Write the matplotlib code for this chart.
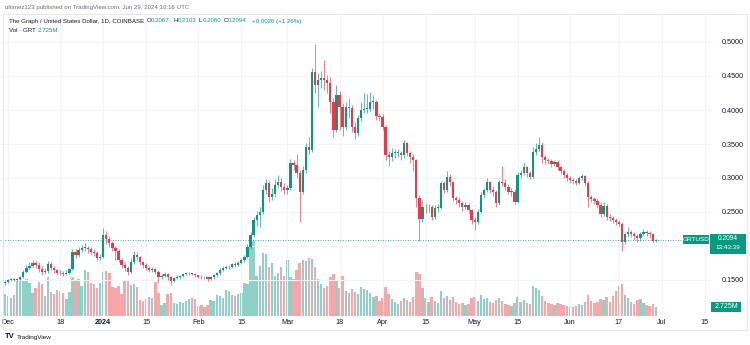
import numpy as np
import pandas as pd
import matplotlib
matplotlib.use("Agg")
import matplotlib.pyplot as plt
from matplotlib.patches import Rectangle

# ---------------------------------------------------------------
# GRT / USD daily candles, Coinbase, 2023-11-30 .. 2024-06-29
# ---------------------------------------------------------------

start_date = "2023-11-30"
first_open = 0.145

close = [
    0.147, 0.150, 0.151, 0.150, 0.151, 0.154, 0.162, 0.168, 0.171, 0.175,
    0.172, 0.166, 0.162, 0.163, 0.174, 0.168, 0.164, 0.161, 0.160, 0.159,
    0.161, 0.166, 0.191, 0.187, 0.194, 0.197, 0.197, 0.195, 0.191, 0.190,
    0.182, 0.184, 0.216, 0.210, 0.205, 0.197, 0.192, 0.180, 0.172, 0.168,
    0.162, 0.176, 0.187, 0.184, 0.176, 0.172, 0.168, 0.165, 0.166, 0.162,
    0.154, 0.156, 0.159, 0.154, 0.149, 0.153, 0.154, 0.156, 0.159, 0.160,
    0.160, 0.159, 0.157, 0.155, 0.154, 0.154, 0.152, 0.154, 0.157, 0.160,
    0.165, 0.168, 0.169, 0.169, 0.173, 0.172, 0.175, 0.179, 0.184, 0.199,
    0.216, 0.238, 0.245, 0.250, 0.282, 0.292, 0.272, 0.276, 0.290, 0.294,
    0.287, 0.282, 0.285, 0.322, 0.319, 0.307, 0.279, 0.312, 0.346, 0.341,
    0.456, 0.437, 0.444, 0.447, 0.444, 0.440, 0.412, 0.371, 0.422, 0.404,
    0.375, 0.404, 0.403, 0.375, 0.366, 0.388, 0.400, 0.402, 0.402, 0.412,
    0.412, 0.391, 0.390, 0.375, 0.334, 0.331, 0.337, 0.337, 0.337, 0.334,
    0.351, 0.337, 0.331, 0.326, 0.270, 0.240, 0.258, 0.257, 0.257, 0.243,
    0.256, 0.256, 0.292, 0.282, 0.302, 0.294, 0.270, 0.268, 0.263, 0.257,
    0.260, 0.253, 0.238, 0.235, 0.250, 0.275, 0.282, 0.294, 0.283, 0.279,
    0.263, 0.294, 0.292, 0.287, 0.280, 0.280, 0.265, 0.305, 0.307, 0.316,
    0.307, 0.302, 0.338, 0.343, 0.349, 0.331, 0.326, 0.325, 0.320, 0.324,
    0.316, 0.310, 0.304, 0.300, 0.297, 0.295, 0.293, 0.300, 0.303, 0.293,
    0.272, 0.269, 0.266, 0.261, 0.247, 0.259, 0.243, 0.241, 0.238, 0.235,
    0.233, 0.206, 0.217, 0.221, 0.218, 0.214, 0.212, 0.217, 0.221, 0.219,
    0.217, 0.2067, 0.2094,
]

high = [
    0.150, 0.152, 0.153, 0.153, 0.153, 0.156, 0.165, 0.172, 0.176, 0.180,
    0.178, 0.176, 0.170, 0.168, 0.178, 0.176, 0.170, 0.166, 0.164, 0.163,
    0.164, 0.168, 0.195, 0.196, 0.198, 0.202, 0.204, 0.200, 0.198, 0.195,
    0.193, 0.188, 0.226, 0.222, 0.214, 0.208, 0.200, 0.195, 0.183, 0.176,
    0.171, 0.182, 0.193, 0.191, 0.186, 0.178, 0.175, 0.171, 0.169, 0.168,
    0.164, 0.159, 0.162, 0.161, 0.156, 0.155, 0.157, 0.158, 0.161, 0.162,
    0.162, 0.161, 0.160, 0.158, 0.157, 0.156, 0.155, 0.156, 0.159, 0.162,
    0.167, 0.170, 0.172, 0.172, 0.175, 0.176, 0.178, 0.182, 0.187, 0.203,
    0.220, 0.242, 0.252, 0.257, 0.290, 0.298, 0.296, 0.285, 0.298, 0.305,
    0.300, 0.292, 0.290, 0.328, 0.327, 0.335, 0.312, 0.318, 0.352, 0.360,
    0.462, 0.497, 0.455, 0.458, 0.474, 0.452, 0.448, 0.418, 0.437, 0.428,
    0.410, 0.412, 0.418, 0.408, 0.382, 0.392, 0.412, 0.425, 0.424, 0.426,
    0.422, 0.415, 0.396, 0.394, 0.378, 0.340, 0.344, 0.342, 0.342, 0.340,
    0.356, 0.353, 0.340, 0.335, 0.328, 0.275, 0.268, 0.262, 0.262, 0.260,
    0.260, 0.262, 0.296, 0.295, 0.310, 0.306, 0.296, 0.274, 0.272, 0.266,
    0.264, 0.263, 0.255, 0.242, 0.254, 0.280, 0.286, 0.300, 0.296, 0.288,
    0.283, 0.297, 0.318, 0.298, 0.291, 0.286, 0.284, 0.309, 0.312, 0.322,
    0.318, 0.310, 0.345, 0.352, 0.360, 0.353, 0.334, 0.330, 0.328, 0.327,
    0.326, 0.318, 0.313, 0.307, 0.303, 0.300, 0.298, 0.303, 0.306, 0.305,
    0.295, 0.275, 0.272, 0.270, 0.264, 0.265, 0.262, 0.247, 0.244, 0.241,
    0.238, 0.235, 0.221, 0.228, 0.224, 0.221, 0.217, 0.220, 0.225, 0.224,
    0.222, 0.219, 0.2103,
]

low = [
    0.142, 0.146, 0.148, 0.148, 0.149, 0.150, 0.153, 0.160, 0.166, 0.169,
    0.168, 0.162, 0.158, 0.159, 0.161, 0.165, 0.161, 0.158, 0.157, 0.156,
    0.157, 0.159, 0.164, 0.183, 0.184, 0.191, 0.192, 0.189, 0.187, 0.185,
    0.178, 0.179, 0.182, 0.203, 0.198, 0.192, 0.180, 0.176, 0.168, 0.163,
    0.158, 0.160, 0.174, 0.180, 0.172, 0.168, 0.165, 0.162, 0.162, 0.159,
    0.146, 0.151, 0.154, 0.150, 0.143, 0.147, 0.151, 0.152, 0.155, 0.157,
    0.158, 0.157, 0.155, 0.153, 0.152, 0.151, 0.149, 0.150, 0.152, 0.155,
    0.158, 0.163, 0.166, 0.166, 0.167, 0.169, 0.170, 0.173, 0.177, 0.182,
    0.196, 0.213, 0.230, 0.228, 0.247, 0.276, 0.265, 0.268, 0.272, 0.285,
    0.281, 0.277, 0.276, 0.283, 0.312, 0.300, 0.235, 0.276, 0.308, 0.335,
    0.338, 0.425, 0.405, 0.433, 0.430, 0.425, 0.395, 0.360, 0.368, 0.370,
    0.362, 0.370, 0.388, 0.368, 0.358, 0.362, 0.384, 0.395, 0.396, 0.398,
    0.402, 0.386, 0.384, 0.370, 0.327, 0.318, 0.325, 0.330, 0.331, 0.327,
    0.330, 0.333, 0.322, 0.310, 0.258, 0.207, 0.235, 0.248, 0.250, 0.238,
    0.240, 0.250, 0.254, 0.278, 0.280, 0.288, 0.266, 0.262, 0.258, 0.252,
    0.254, 0.248, 0.232, 0.224, 0.232, 0.248, 0.270, 0.280, 0.278, 0.274,
    0.258, 0.260, 0.288, 0.282, 0.276, 0.274, 0.262, 0.263, 0.300, 0.304,
    0.302, 0.298, 0.300, 0.334, 0.340, 0.322, 0.320, 0.320, 0.316, 0.317,
    0.312, 0.306, 0.300, 0.296, 0.293, 0.291, 0.289, 0.291, 0.297, 0.288,
    0.258, 0.264, 0.262, 0.256, 0.242, 0.244, 0.238, 0.237, 0.234, 0.231,
    0.228, 0.193, 0.203, 0.213, 0.213, 0.209, 0.206, 0.207, 0.215, 0.214,
    0.212, 0.204, 0.2060,
]

# daily volume, millions of GRT
volume = [
    6.5, 6.0, 5.5, 6.3, 10.5, 11.0, 10.8, 11.2, 9.8, 7.0,
    8.5, 10.2, 9.5, 6.0, 11.7, 7.2, 6.5, 7.8, 7.5, 6.8,
    5.2, 7.2, 11.7, 10.5, 11.0, 9.0, 13.8, 13.2, 9.9, 9.6,
    8.5, 10.0, 13.2, 13.5, 12.8, 8.7, 8.4, 9.0, 6.5, 10.8,
    10.5, 9.3, 9.5, 8.8, 4.8, 4.5, 5.0, 5.7, 5.5, 10.2,
    7.0, 3.3, 4.0, 6.6, 6.9, 3.9, 3.6, 4.2, 3.9, 4.5,
    5.0, 5.4, 5.2, 3.0, 3.2, 2.8, 3.3, 4.8, 4.6, 6.3,
    6.0, 5.5, 7.8, 7.5, 6.3, 6.0, 6.5, 7.0, 9.9, 9.6,
    23.4, 22.5, 12.0, 15.0, 19.0, 18.5, 14.7, 15.9, 12.0, 12.9,
    14.7, 12.0, 16.8, 11.7, 11.0, 13.8, 16.0, 16.8, 16.5, 17.4,
    17.0, 14.7, 11.0, 9.6, 8.5, 9.0, 11.7, 12.5, 10.5, 8.4,
    12.0, 7.5, 6.9, 8.0, 7.2, 6.6, 8.7, 8.2, 7.8, 6.9,
    5.6, 6.0, 4.5, 5.4, 8.7, 6.6, 5.1, 4.2, 3.6, 4.5,
    5.4, 4.8, 4.2, 5.7, 13.2, 12.6, 8.4, 5.4, 4.2, 5.7,
    4.5, 3.9, 7.5, 5.4, 6.0, 4.8, 5.7, 4.2, 3.6, 3.9,
    3.3, 3.6, 5.4, 5.7, 4.5, 6.3, 5.1, 5.4, 4.2, 3.9,
    4.8, 5.4, 4.5, 3.6, 3.3, 3.0, 3.9, 5.7, 4.2, 4.8,
    3.9, 3.6, 9.0, 8.4, 7.8, 6.0, 4.5, 3.9, 3.6, 3.3,
    3.9, 3.6, 3.3, 3.0, 2.7, 2.7, 3.0, 3.6, 3.3, 4.2,
    6.3, 4.5, 3.9, 4.2, 5.1, 4.8, 5.7, 4.2, 6.0, 7.5,
    9.0, 9.6, 6.3, 5.4, 4.2, 3.6, 4.8, 5.1, 3.9, 3.3,
    3.0, 3.6, 2.725,
]

tick_dates = ["2023-12-01", "2023-12-18", "2024-01-01", "2024-01-15",
              "2024-02-01", "2024-02-15", "2024-03-01", "2024-03-18",
              "2024-04-01", "2024-04-15", "2024-05-01", "2024-05-15",
              "2024-06-01", "2024-06-17", "2024-07-01", "2024-07-15"]
tick_labels = ["Dec", "18", "2024", "15", "Feb", "15", "Mar", "18",
               "Apr", "15", "May", "15", "Jun", "17", "Jul", "15"]

# 0.2000 sits under the last-price badge, so it gets no label
price_ticks = [0.15, 0.20, 0.25, 0.30, 0.35, 0.40, 0.45, 0.50]
price_labels = ["0.1500", "", "0.2500", "0.3000", "0.3500", "0.4000", "0.4500", "0.5000"]

# ---------------------------------------------------------------

UP = "#089981"
DOWN = "#f23645"
UP_VOL = "#8fd0c8"
DOWN_VOL = "#f7a6a9"
TEXT = "#131722"
GREY = "#6a6d78"

plt.rcParams["font.family"] = ["Liberation Sans", "DejaVu Sans"]

W, H = 750, 345
fig = plt.figure(figsize=(W / 100, H / 100), dpi=100)

def fx(px):
    return px / W

def fy(py):
    return 1 - py / H

origin = pd.Timestamp("2023-12-01")
dates = pd.date_range(start_date, periods=len(close), freq="D")
x = np.array((dates - origin).days, dtype=float)

c = np.array(close)
o = np.array([first_open] + close[:-1])
hi = np.maximum(np.array(high), np.maximum(o, c))
lo = np.minimum(np.array(low), np.minimum(o, c))
up = c >= o

# pane: x 0..713 px, y 14..316 px
ax_left, ax_right, ax_top, ax_bot = 0, 713, 14, 316
rect = [fx(ax_left), fy(ax_bot), fx(ax_right - ax_left), (ax_bot - ax_top) / H]

axv = fig.add_axes(rect)
ax = fig.add_axes(rect, sharex=axv)
ax.patch.set_visible(False)

xlim = ((ax_left - 8) / 3.07, (ax_right - 8) / 3.07)

# volume
axv.bar(x, volume, width=0.78, color=np.where(up, UP_VOL, DOWN_VOL), linewidth=0)
axv.set_ylim(0, (ax_bot - ax_top) * 0.3)
axv.set_yticks([])
axv.set_xlim(*xlim)
xt = [(pd.Timestamp(d) - origin).days for d in tick_dates]
axv.set_xticks(xt)
axv.set_xticklabels(tick_labels, fontsize=5.2, color=TEXT)
for lab in axv.get_xticklabels():
    if lab.get_text() == "2024":
        lab.set_fontweight("bold")
axv.tick_params(axis="x", length=0, pad=2)
axv.grid(axis="x", color="#f3f4f8", lw=0.8)
for s in axv.spines.values():
    s.set_visible(False)

# candles
cols = np.where(up, UP, DOWN)
ax.vlines(x, lo, hi, colors=cols, lw=0.6, alpha=0.75, zorder=3)
body_b = np.minimum(o, c)
body_h = np.maximum(np.abs(c - o), 0.0008)
ax.bar(x, body_h, bottom=body_b, width=0.74, color=cols, linewidth=0, zorder=4)

ax.set_ylim(0.25 - (ax_bot - 212) / 680, 0.25 + (212 - ax_top) / 680)
ax.set_yticks(price_ticks)
ax.set_yticklabels(price_labels, fontsize=5.2, color=TEXT)
ax.yaxis.tick_right()
ax.tick_params(axis="y", length=0, pad=6)
ax.tick_params(axis="x", bottom=False, labelbottom=False)
for p in price_ticks:
    ax.axhline(p, color="#f3f4f8", lw=0.8, zorder=0)
for s in ax.spines.values():
    s.set_visible(False)

# last price line
last = close[-1]
ax.axhline(last, color=UP, lw=0.6, ls=(0, (1, 2)), zorder=2)

# price / volume labels on the right
ly = 212 + (0.25 - last) * 680
fig.patches.append(Rectangle((fx(710), fy(ly + 14)), fx(36), 20 / H,
                             transform=fig.transFigure, fc=UP, ec="none", zorder=5))
fig.text(fx(728), fy(ly - 1.2), "%.4f" % last, fontsize=4.8, color="white",
         ha="center", va="center", zorder=6)
fig.text(fx(728), fy(ly + 8.3), "13:43:39", fontsize=4.6, color="white",
         ha="center", va="center", zorder=6)
fig.patches.append(Rectangle((fx(683), fy(ly + 4.5)), fx(26), 9.5 / H,
                             transform=fig.transFigure, fc=UP, ec="none", zorder=5))
fig.text(fx(696), fy(ly), "GRTUSD", fontsize=4.6, color="white",
         ha="center", va="center", zorder=6)

vy = ax_bot - volume[-1] / 0.3
fig.patches.append(Rectangle((fx(711), fy(vy + 5)), fx(30), 10 / H,
                             transform=fig.transFigure, fc=UP, ec="none", zorder=5))
fig.text(fx(726), fy(vy), "2.725M", fontsize=5.0, color="white",
         ha="center", va="center", zorder=6)

# frame around the chart
fig.patches.append(Rectangle((fx(3), fy(330)), fx(744), 316 / H,
                             transform=fig.transFigure, fc="none",
                             ec="#e0e3eb", lw=0.6, zorder=1))

# header
fig.text(fx(5), fy(7), "ultimez123 published on TradingView.com, Jun 29, 2024 10:16 UTC",
         fontsize=4.4, color=GREY, va="center")
fig.text(fx(9), fy(21), "The Graph / United States Dollar, 1D, COINBASE",
         fontsize=4.4, color=TEXT, va="center")
for px, lbl, val in [(147, "O", "0.2067"), (174, "H", "0.2103"),
                     (199, "L", "0.2060"), (224, "C", "0.2094")]:
    fig.text(fx(px), fy(21), lbl, fontsize=4.4, color=TEXT, va="center")
    fig.text(fx(px + 4), fy(21), val, fontsize=4.4, color=UP, va="center")
fig.text(fx(252), fy(21), "+0.0026 (+1.26%)", fontsize=4.4, color=UP, va="center")
fig.text(fx(9), fy(31), "Vol \u00b7 GRT", fontsize=4.4, color=TEXT, va="center")
fig.text(fx(38), fy(31), "2.725M", fontsize=4.4, color=UP, va="center")

# footer logo
fig.text(fx(5), fy(337), "TV", fontsize=5.5, color=TEXT, fontweight="bold", va="center")
fig.text(fx(17), fy(337), "TradingView", fontsize=4.6, color=TEXT, va="center")

fig.savefig("out.png", dpi=100)
